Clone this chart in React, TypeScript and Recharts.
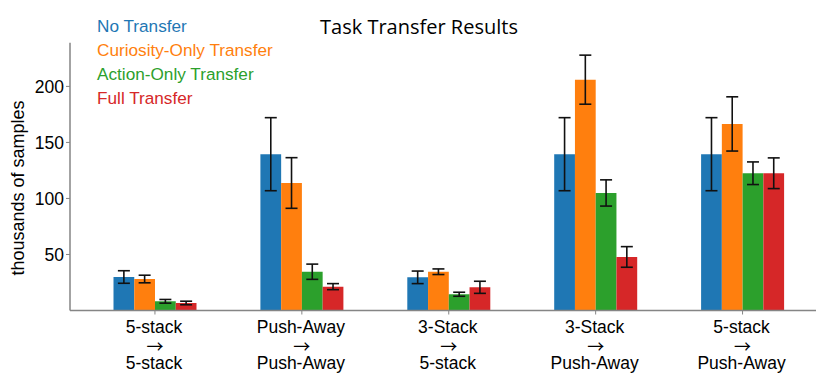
import React from "react";
import { BarChart, Bar, XAxis, YAxis, ErrorBar } from "recharts";

const sourceTasks = ["5-stack", "Push-Away", "3-Stack", "3-Stack", "5-stack"];
const targetTasks = ["5-stack", "Push-Away", "5-stack", "Push-Away", "Push-Away"];

const seriesNames = ["No Transfer", "Curiosity-Only Transfer", "Action-Only Transfer", "Full Transfer"];
const seriesColors = ["#1f77b4", "#ff7f0e", "#2ca02c", "#d62728"];

const noTransfer = [29.9, 139.5, 29.6, 139.5, 139.5];
const noTransferErr = [5.6, 32.6, 5.6, 32.6, 32.6];
const curiosityOnly = [28.1, 113.8, 34.6, 206, 166.5];
const curiosityOnlyErr = [3.4, 22.6, 2.5, 21.9, 24.2];
const actionOnly = [8.2, 34.6, 14.5, 104.9, 122.5];
const actionOnlyErr = [1.65, 6.8, 1.8, 11.7, 10.1];
const fullTransfer = [6.7, 21.3, 20.7, 47.8, 122.5];
const fullTransferErr = [1.6, 2.7, 5.4, 9.2, 13.7];

const yTicks = [50, 100, 150, 200];

const data = sourceTasks.map((s, i) => ({
  name: i,
  s0: noTransfer[i],
  e0: noTransferErr[i],
  s1: curiosityOnly[i],
  e1: curiosityOnlyErr[i],
  s2: actionOnly[i],
  e2: actionOnlyErr[i],
  s3: fullTransfer[i],
  e3: fullTransferErr[i],
}));

const FONT = "'Liberation Sans', Arial, sans-serif";
const AXIS = "#858585";

const XTick = (props: any) => {
  const { x, y, payload } = props;
  const i = payload.value;
  return (
    <g>
      <text x={x - 1} y={y + 16.5} textAnchor="middle" fontFamily={FONT} fontSize={17.5} fill="#000">
        {sourceTasks[i]}
      </text>
      <text x={x} y={y + 36} textAnchor="middle" fontFamily="'Noto Sans CJK JP', sans-serif" fontSize={17} fill="#000">
        {"→"}
      </text>
      <text x={x - 1} y={y + 52.5} textAnchor="middle" fontFamily={FONT} fontSize={17.5} fill="#000">
        {targetTasks[i]}
      </text>
    </g>
  );
};

export default function App() {
  return (
    <div style={{ position: "absolute", left: 0, top: 0, width: 831, height: 374, background: "#fff" }}>
      <BarChart
        width={831}
        height={374}
        data={data}
        margin={{ top: 42.7, right: 15, bottom: 0, left: 0 }}
        barSize={20.75}
        barGap={0}
      >
        <XAxis
          dataKey="name"
          interval={0}
          height={63.5}
          padding={{ left: 11.5, right: 0 }}
          axisLine={{ stroke: AXIS, strokeWidth: 1.5 }}
          tickLine={{ stroke: AXIS, strokeWidth: 1 }}
          tickSize={4}
          tickMargin={2}
          tick={<XTick />}
        />
        <YAxis
          width={70}
          domain={[0, 239]}
          ticks={yTicks}
          allowDataOverflow
          axisLine={{ stroke: AXIS, strokeWidth: 1.5 }}
          tickLine={{ stroke: AXIS, strokeWidth: 1 }}
          tickSize={4}
          tickMargin={2}
          tick={{ fill: "#000", fontSize: 17.5, fontFamily: FONT }}
        />
        {seriesColors.map((c, k) => (
          <Bar key={k} dataKey={`s${k}`} fill={c} isAnimationActive={false}>
            <ErrorBar dataKey={`e${k}`} direction="y" width={6} stroke="#111" strokeWidth={1.6} />
          </Bar>
        ))}
      </BarChart>
      <svg
        width={831}
        height={374}
        style={{ position: "absolute", left: 0, top: 0, pointerEvents: "none" }}
      >
        <text x={419} y={34} textAnchor="middle" fontFamily="'Open Sans', sans-serif" fontSize={20} fill="#000">
          Task Transfer Results
        </text>
        {seriesNames.map((n, k) => (
          <text key={k} x={97} y={32 + 24 * k} fontFamily={FONT} fontSize={17.2} fill={seriesColors[k]}>
            {n}
          </text>
        ))}
        <text
          x={0}
          y={0}
          transform="translate(24,188) rotate(-90)"
          textAnchor="middle"
          fontFamily={FONT}
          fontSize={18}
          fill="#000"
        >
          thousands of samples
        </text>
      </svg>
    </div>
  );
}
